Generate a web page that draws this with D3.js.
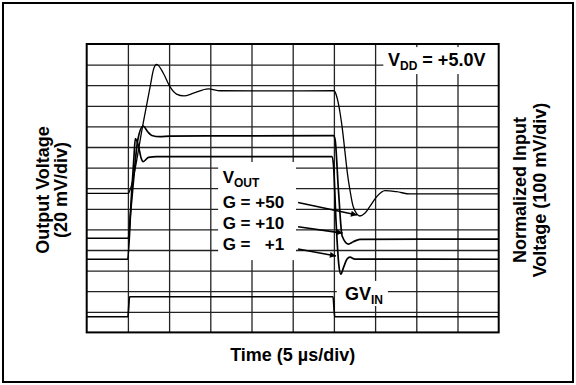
<!DOCTYPE html>
<html>
<head>
<meta charset="utf-8">
<script src="https://cdn.jsdelivr.net/npm/d3@7"></script>
<style>
  body { margin: 0; background: #fff; }
  text { font-family: "Liberation Sans", Arial, sans-serif; font-weight: bold; fill: #000; }
</style>
</head>
<body>
<svg id="chart" width="576" height="385"></svg>
<script>
// scope traces, x in time divisions (0-10), y in vertical divisions (0-14)
var g50T = [0, 1.01, 1.05, 1.37, 1.54, 1.63, 1.70, 1.86, 2.02, 2.18, 2.36, 2.59, 2.95, 3.24, 4.5, 6.0, 6.07, 6.15, 6.19, 6.35, 6.39, 6.47, 6.63, 6.75, 6.87, 7.04, 7.24, 7.52, 7.85, 10];
var g50V = [6.75, 6.75, 6.91, 10.15, 11.93, 12.82, 13.01, 12.58, 11.93, 11.57, 11.48, 11.61, 11.82, 11.73, 11.72, 11.73, 11.44, 10.65, 10.11, 7.40, 6.91, 6.10, 5.65, 5.78, 6.10, 6.59, 6.88, 6.83, 6.72, 6.72];

var g10T = [0, 1.01, 1.06, 1.13, 1.24, 1.37, 1.48, 1.58, 1.78, 2.02, 5.99, 6.03, 6.11, 6.20, 6.35, 6.47, 6.63, 10];
var g10V = [4.57, 4.57, 5.70, 7.24, 9.34, 10.02, 9.74, 9.56, 9.50, 9.53, 9.55, 9.34, 6.91, 4.68, 4.29, 4.40, 4.52, 4.53];

var g1T = [0, 0.995, 1.08, 1.15, 1.18, 1.25, 1.32, 1.37, 1.50, 1.70, 5.95, 5.99, 6.05, 6.12, 6.17, 6.23, 6.32, 6.39, 6.51, 10];
var g1V = [3.55, 3.55, 6.43, 8.61, 9.41, 9.10, 8.47, 8.29, 8.50, 8.53, 8.53, 8.13, 5.46, 3.27, 2.83, 3.13, 3.56, 3.65, 3.56, 3.55];

var gvinT = [0, 1.0, 1.04, 5.98, 6.02, 10];
var gvinV = [0.76, 0.76, 1.73, 1.73, 0.76, 0.76];

// labels
var labelBoxes = [[3.19, 8.27, 5.08, 3.51], [7.2, 13.85, 10, 12.54], [6.07, 2.5, 7.31, 1.28]];
var gainLabels = ["G = +50", "G = +10", "G =   +1"];
var gainLabelY = [6.05, 5.03, 4.01];
var arrowFrom = [[5.13, 6.31], [5.13, 5.13], [5.13, 4.05]];
var arrowTo = [[6.56, 5.70], [6.21, 4.82], [6.05, 3.71]];

var svg = d3.select("#chart");
var plotL = 86.7, plotR = 498.7, plotT = 44, plotB = 332.4;

var x = d3.scaleLinear().domain([0, 10]).range([plotL, plotR]);
var y = d3.scaleLinear().domain([0, 14]).range([plotB, plotT]);

// outer border
svg.append("rect")
  .attr("x", 3).attr("y", 3).attr("width", 570).attr("height", 379)
  .attr("fill", "none").attr("stroke", "#000").attr("stroke-width", 2);

// grid
svg.append("g")
  .attr("transform", "translate(0," + plotB + ")")
  .call(d3.axisBottom(x).tickValues(d3.range(1, 10)).tickSize(-(plotB - plotT)).tickFormat(""))
  .call(function(g) { g.select(".domain").remove(); })
  .selectAll("line").attr("stroke", "#222").attr("stroke-width", 1.3);

svg.append("g")
  .attr("transform", "translate(" + plotL + ",0)")
  .call(d3.axisLeft(y).tickValues(d3.range(1, 14)).tickSize(-(plotR - plotL)).tickFormat(""))
  .call(function(g) { g.select(".domain").remove(); })
  .selectAll("line").attr("stroke", "#222").attr("stroke-width", 1.3);

// white boxes behind labels
svg.selectAll(".box")
  .data(labelBoxes)
  .enter().append("rect")
    .attr("class", "box")
    .attr("x", function(d) { return x(d[0]); })
    .attr("y", function(d) { return y(d[1]); })
    .attr("width", function(d) { return x(d[2]) - x(d[0]); })
    .attr("height", function(d) { return y(d[3]) - y(d[1]); })
    .attr("fill", "#fff");

// frame
svg.append("rect")
  .attr("x", plotL).attr("y", plotT).attr("width", plotR - plotL).attr("height", plotB - plotT)
  .attr("fill", "none").attr("stroke", "#000").attr("stroke-width", 2);

// traces
var line = d3.line()
  .curve(d3.curveMonotoneX)
  .x(function(d) { return x(d[0]); })
  .y(function(d) { return y(d[1]); });

var traces = [
  {t: g50T, v: g50V, w: 1.3},
  {t: g10T, v: g10V, w: 1.7},
  {t: g1T, v: g1V, w: 1.7},
  {t: gvinT, v: gvinV, w: 1.7}
];

svg.selectAll(".trace")
  .data(traces)
  .enter().append("path")
    .attr("class", "trace")
    .attr("d", function(d) { return line(d3.zip(d.t, d.v)); })
    .attr("fill", "none")
    .attr("stroke", "#000")
    .attr("stroke-width", function(d) { return d.w; })
    .attr("stroke-linejoin", "round");

// arrows
svg.append("defs").append("marker")
  .attr("id", "head")
  .attr("viewBox", "0 0 10 10")
  .attr("refX", 10).attr("refY", 5)
  .attr("markerWidth", 9).attr("markerHeight", 6)
  .attr("markerUnits", "userSpaceOnUse")
  .attr("orient", "auto")
  .append("path").attr("d", "M0,0L10,5L0,10z").attr("fill", "#000");

svg.selectAll(".arrow")
  .data(d3.zip(arrowFrom, arrowTo))
  .enter().append("line")
    .attr("class", "arrow")
    .attr("x1", function(d) { return x(d[0][0]); })
    .attr("y1", function(d) { return y(d[0][1]); })
    .attr("x2", function(d) { return x(d[1][0]); })
    .attr("y2", function(d) { return y(d[1][1]); })
    .attr("stroke", "#000").attr("stroke-width", 1.6)
    .attr("marker-end", "url(#head)");

// in-plot labels
var vout = svg.append("text").attr("x", x(3.3)).attr("y", y(7.25)).style("font-size", "17px");
vout.append("tspan").text("V");
vout.append("tspan").attr("dy", 4).style("font-size", "12px").text("OUT");

svg.selectAll(".gain")
  .data(gainLabels)
  .enter().append("text")
    .attr("class", "gain")
    .attr("x", x(3.3))
    .attr("y", function(d, i) { return y(gainLabelY[i]); })
    .style("font-size", "17px")
    .style("white-space", "pre")
    .text(function(d) { return d; });

var vdd = svg.append("text").attr("x", 388).attr("y", 66).style("font-size", "18px");
vdd.append("tspan").text("V");
vdd.append("tspan").attr("dy", 4).style("font-size", "12px").text("DD");
vdd.append("tspan").attr("dy", -4).text(" = +5.0V");

var gvin = svg.append("text").attr("x", 345).attr("y", 300).style("font-size", "18px");
gvin.append("tspan").text("GV");
gvin.append("tspan").attr("dy", 4).style("font-size", "12px").text("IN");

// axis titles
svg.append("text")
  .attr("x", 292.7).attr("y", 361)
  .attr("text-anchor", "middle")
  .style("font-size", "18px")
  .text("Time (5 µs/div)");

var leftTitle = svg.append("text")
  .attr("transform", "translate(49,190) rotate(-90)")
  .attr("text-anchor", "middle")
  .style("font-size", "18px");
leftTitle.append("tspan").attr("x", 0).attr("dy", 0).text("Output Voltage");
leftTitle.append("tspan").attr("x", 0).attr("dy", 18).text("(20 mV/div)");

var rightTitle = svg.append("text")
  .attr("transform", "translate(526,190) rotate(-90)")
  .attr("text-anchor", "middle")
  .style("font-size", "18px");
rightTitle.append("tspan").attr("x", 0).attr("dy", 0).text("Normalized Input");
rightTitle.append("tspan").attr("x", 0).attr("dy", 20).text("Voltage (100 mV/div)");
</script>
</body>
</html>
